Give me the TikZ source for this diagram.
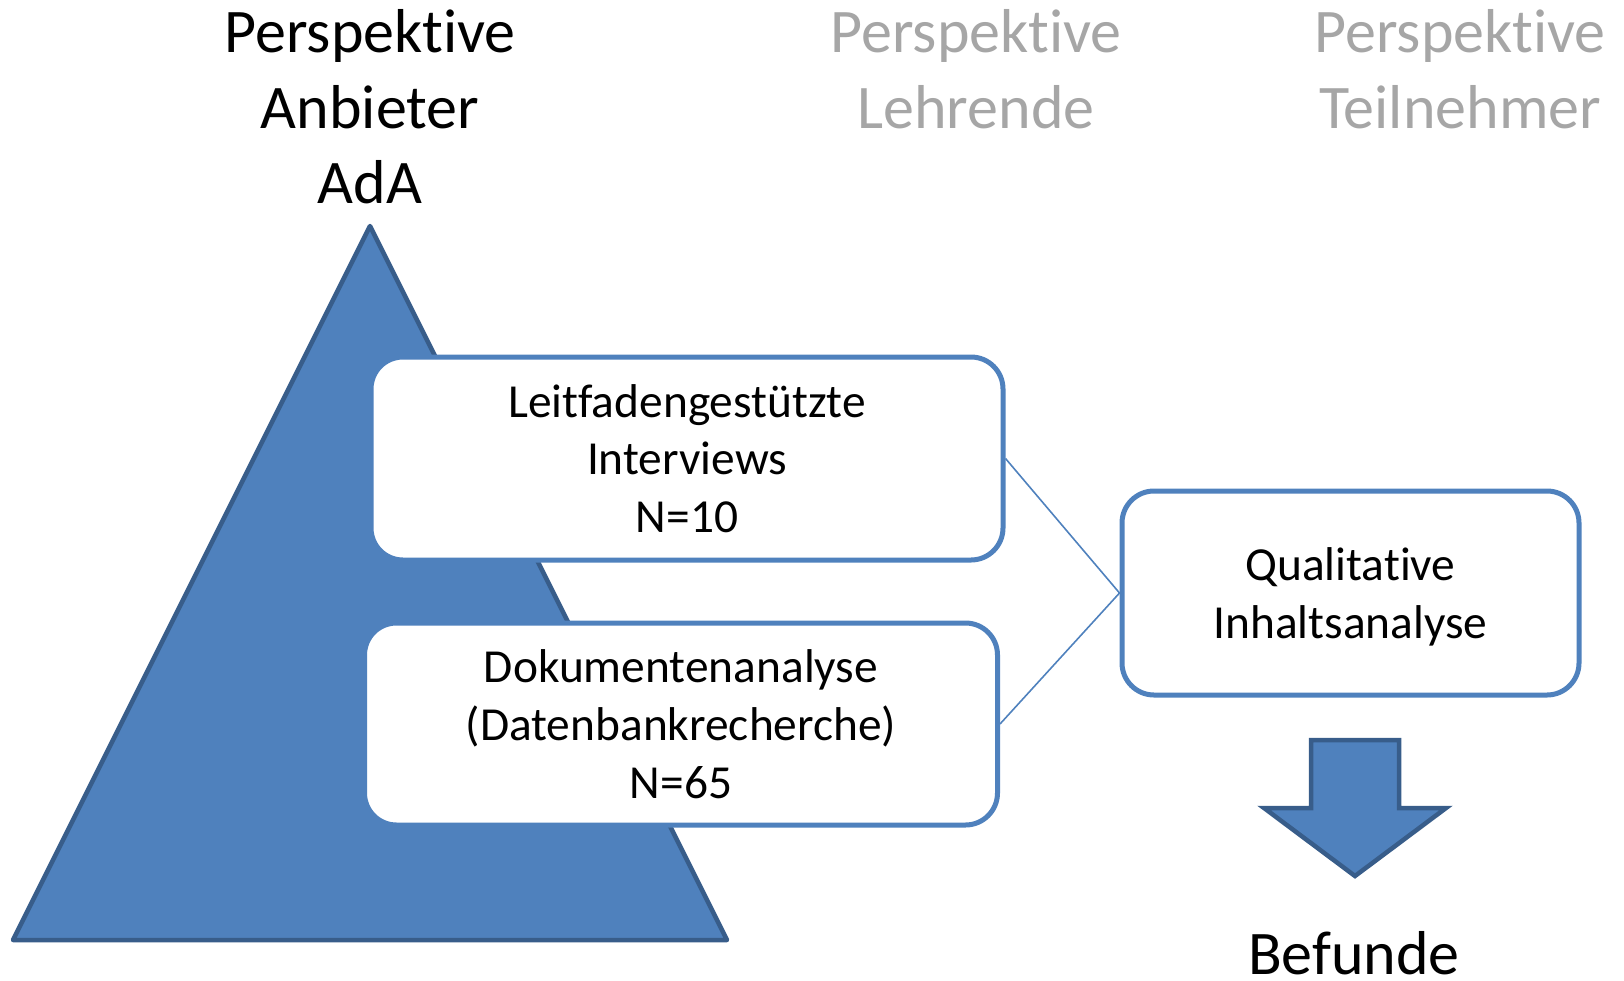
\documentclass[tikz,border=0pt]{standalone}
\usepackage{fontspec}
\setmainfont{Carlito}[Ligatures=NoCommon]
\definecolor{ablue}{HTML}{4F81BD}
\definecolor{dblue}{HTML}{385D8A}
\definecolor{lgray}{HTML}{A6A6A6}
\tikzset{
  headtext/.style={inner sep=0pt, align=center, font=\fontsize{62}{75.6}\selectfont},
  methodbox/.style={draw=ablue, line width=5pt, fill=white, rounded corners=32pt,
    align=center, inner sep=0pt, font=\fontsize{47.4}{57.8}\selectfont},
  link/.style={draw=ablue, line width=1.6pt},
  blueshape/.style={fill=ablue, draw=dblue, line width=4.5pt, line join=round}
}
\begin{document}
\begin{tikzpicture}[x=1pt,y=-1pt]
\useasboundingbox (0,0) rectangle (1624,980);
% triangle
\draw[blueshape] (370,226) -- (727,940) -- (13,940) -- cycle;
% headers
\node[headtext] (h1) at (370,107) {Perspektive\\Anbieter\\AdA};
\node[headtext, text=lgray] (h2) at (976,69) {Perspektive\\Lehrende};
\node[headtext, text=lgray] (h3) at (1460,69) {Perspektive\\Teilnehmer};
% boxes
\node[methodbox, minimum width=632pt, minimum height=203pt] (b1) at (687,458.5)
  {Leitfadengestützte\\Interviews\\N=10};
\node[methodbox, minimum width=633pt, minimum height=202pt] (b2) at (681,724)
  {Dokumentenanalyse\\(Datenbankrecherche)\\N=65};
\node[methodbox, minimum width=457pt, minimum height=204pt, text depth=0pt] (b3) at (1350.5,593)
  {Qualitative\\Inhaltsanalyse};
% connectors
\draw[link] (b1.east) -- (b3.west);
\draw[link] (b2.east) -- (b3.west);
% arrow
\draw[blueshape, line join=miter] (1311,740) -- (1399,740) -- (1399,808) -- (1446,808)
  -- (1355,876) -- (1264,808) -- (1311,808) -- cycle;
\node[headtext, anchor=base] (bef) at (1354,974) {Befunde};
\end{tikzpicture}
\end{document}
